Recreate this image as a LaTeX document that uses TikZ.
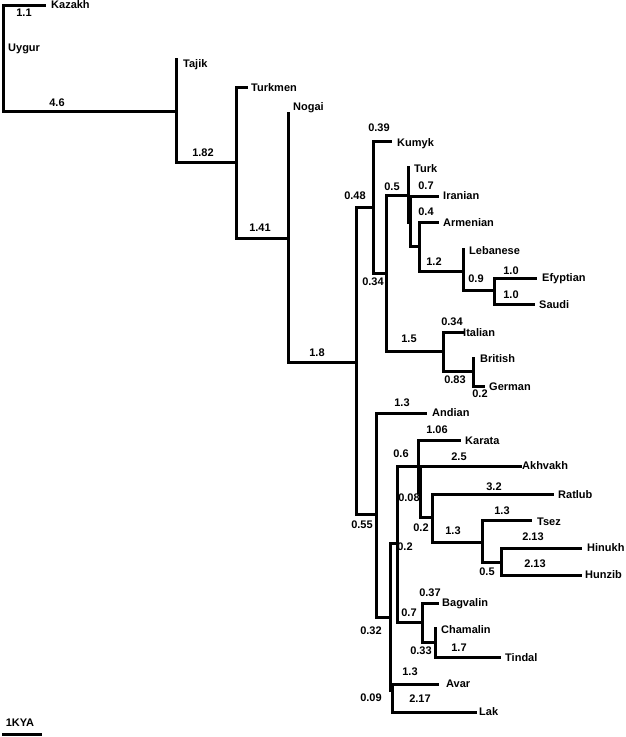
\documentclass[tikz,border=0pt]{standalone}
\usepackage{fontspec}
\setmainfont{Liberation Sans}
\begin{document}
\begin{tikzpicture}[x=1pt,y=-1pt,
  br/.style={line width=3pt,line join=miter,line cap=rect},
  lbl/.style={font=\fontsize{11}{12}\selectfont\bfseries,inner sep=0pt,text height=7.9pt,text depth=0pt},
  leaf/.style={lbl,anchor=west},
  num/.style={lbl}]
\useasboundingbox (0,0) rectangle (626,737);
% leaf labels
\node[leaf] (Kazakh) at (51,5) {Kazakh};
\node[leaf] (Uygur) at (8,48) {Uygur};
\node[leaf] (Tajik) at (183,64) {Tajik};
\node[leaf] (Turkmen) at (251,88) {Turkmen};
\node[leaf] (Nogai) at (293,107) {Nogai};
\node[leaf] (Kumyk) at (397,143) {Kumyk};
\node[leaf] (Turk) at (414,169) {Turk};
\node[leaf] (Iranian) at (443,196) {Iranian};
\node[leaf] (Armenian) at (443,223) {Armenian};
\node[leaf] (Lebanese) at (469,251) {Lebanese};
\node[leaf] (Efyptian) at (542,278) {Efyptian};
\node[leaf] (Saudi) at (539,305) {Saudi};
\node[leaf] (Italian) at (463,333) {Italian};
\node[leaf] (British) at (480,359) {British};
\node[leaf] (German) at (489,387) {German};
\node[leaf] (Andian) at (432,413) {Andian};
\node[leaf] (Karata) at (465,441) {Karata};
\node[leaf] (Akhvakh) at (522,466) {Akhvakh};
\node[leaf] (Ratlub) at (558,495) {Ratlub};
\node[leaf] (Tsez) at (537,522) {Tsez};
\node[leaf] (Hinukh) at (587,548) {Hinukh};
\node[leaf] (Hunzib) at (585,575) {Hunzib};
\node[leaf] (Bagvalin) at (442,603) {Bagvalin};
\node[leaf] (Chamalin) at (441,630) {Chamalin};
\node[leaf] (Tindal) at (505,658) {Tindal};
\node[leaf] (Avar) at (446,684) {Avar};
\node[leaf] (Lak) at (479,712) {Lak};
% branch tips
\coordinate (tKazakh) at (44,5);
\coordinate (tTajik) at (176,59);
\coordinate (tTurkmen) at (246,87);
\coordinate (tNogai) at (288,113);
\coordinate (tKumyk) at (390,141);
\coordinate (tTurk) at (408,167);
\coordinate (tIranian) at (437,196);
\coordinate (tArmenian) at (437,222);
\coordinate (tLebanese) at (463,249);
\coordinate (tEfyptian) at (535,278);
\coordinate (tSaudi) at (533,304);
\coordinate (tItalian) at (462,332);
\coordinate (tBritish) at (473,358);
\coordinate (tGerman) at (483,386);
\coordinate (tAndian) at (425,413);
\coordinate (tKarata) at (459,440);
\coordinate (tAkhvakh) at (520,466);
\coordinate (tRatlub) at (552,494);
\coordinate (tTsez) at (530,520);
\coordinate (tHinukh) at (580,548);
\coordinate (tHunzib) at (580,575);
\coordinate (tBagvalin) at (437,603);
\coordinate (tChamalin) at (435,628);
\coordinate (tTindal) at (499,657);
\coordinate (tAvar) at (437,684);
\coordinate (tLak) at (475,712);
% internal nodes (bottom of vertical bars)
\coordinate (n0) at (3,111);
\coordinate (nA) at (176,162);
\coordinate (nB) at (236,238);
\coordinate (nC) at (288,362);
\coordinate (nD) at (356,514);
\coordinate (nE) at (373,273);
\coordinate (nF) at (386,351);
\coordinate (nG) at (408,222);
\coordinate (nG2) at (410.5,246);
\coordinate (nH) at (419,271);
\coordinate (nI) at (463,290);
\coordinate (nJ) at (494,304);
\coordinate (nK) at (443,371);
\coordinate (nL) at (473,386);
\coordinate (nM) at (376,617);
\coordinate (nN) at (390,690);
\coordinate (nN2) at (392,712);
\coordinate (nO) at (397,622);
\coordinate (nKa) at (418,492);
\coordinate (nKa2) at (420,517);
\coordinate (nP) at (432,542);
\coordinate (nQ) at (482,562);
\coordinate (nR) at (501,575);
\coordinate (nS) at (422,642);
\coordinate (nT) at (435,657);
% tree
\draw[br] (tKazakh) -- (3,5) -- (n0) -- (176,111);
\draw[br] (tTajik) -- (nA) -- (nB |- nA);
\draw[br] (tTurkmen) -- (236,87) -- (nB) -- (nC |- nB);
\draw[br] (tNogai) -- (nC) -- (356,362);
\draw[br] (nE |- 0,207) -- (356,207) -- (nD) -- (nM |- nD);
\draw[br] (tKumyk) -- (373,141) -- (nE) -- (nF |- nE);
\draw[br] (nG |- 0,195) -- (386,195) -- (nF) -- (nK |- nF);
\draw[br] (tTurk) -- (nG);
\draw[br] (408,196) -- (tIranian);
\draw[br] (410.5,196) -- (nG2) -- (nH |- nG2);
\draw[br] (tArmenian) -- (419,222) -- (nH) -- (nI |- nH);
\draw[br] (tLebanese) -- (nI) -- (nJ |- nI);
\draw[br] (tEfyptian) -- (494,278) -- (nJ) -- (tSaudi);
\draw[br] (tItalian) -- (443,332) -- (nK) -- (nL |- nK);
\draw[br] (tBritish) -- (nL) -- (tGerman);
\draw[br] (tAndian) -- (376,413) -- (nM) -- (390,617);
\draw[br] (nO |- 0,543) -- (390,543) -- (nN);
\draw[br] (390,684) -- (tAvar);
\draw[br] (392,684) -- (nN2) -- (tLak);
\draw[br] (tAkhvakh) -- (397,466) -- (nO) -- (nS |- nO);
\draw[br] (tKarata) -- (418,440) -- (nKa);
\draw[br] (420,466) -- (nKa2) -- (nP |- nKa2);
\draw[br] (tRatlub) -- (432,494) -- (nP) -- (nQ |- nP);
\draw[br] (tTsez) -- (482,520) -- (nQ) -- (nR |- nQ);
\draw[br] (tHinukh) -- (501,548) -- (nR) -- (tHunzib);
\draw[br] (tBagvalin) -- (422,603) -- (nS) -- (nT |- nS);
\draw[br] (tChamalin) -- (nT) -- (tTindal);
% branch lengths
\node[num] (l1) at (24,13) {1.1};
\node[num] (l2) at (57,103) {4.6};
\node[num] (l3) at (203,153) {1.82};
\node[num] (l4) at (260,228) {1.41};
\node[num] (l5) at (317,353) {1.8};
\node[num] (l6) at (355,196) {0.48};
\node[num] (l7) at (379,128) {0.39};
\node[num] (l8) at (373,282) {0.34};
\node[num] (l9) at (392,187) {0.5};
\node[num] (l10) at (426,186) {0.7};
\node[num] (l11) at (426,212) {0.4};
\node[num] (l12) at (434,262) {1.2};
\node[num] (l13) at (476,279) {0.9};
\node[num] (l14) at (511,271) {1.0};
\node[num] (l15) at (511,295) {1.0};
\node[num] (l16) at (409,339) {1.5};
\node[num] (l17) at (452,322) {0.34};
\node[num] (l18) at (455,380) {0.83};
\node[num] (l19) at (480,394) {0.2};
\node[num] (l20) at (402,403) {1.3};
\node[num] (l21) at (362,525) {0.55};
\node[num] (l22) at (371,631) {0.32};
\node[num] (l23) at (437,430) {1.06};
\node[num] (l24) at (401,454) {0.6};
\node[num] (l25) at (459,457) {2.5};
\node[num] (l26) at (409,498) {0.08};
\node[num] (l27) at (421,528) {0.2};
\node[num] (l28) at (494,487) {3.2};
\node[num] (l29) at (453,531) {1.3};
\node[num] (l30) at (502,511) {1.3};
\node[num] (l31) at (487,572) {0.5};
\node[num] (l32) at (533,537) {2.13};
\node[num] (l33) at (535,564) {2.13};
\node[num] (l34) at (405,547) {0.2};
\node[num] (l35) at (409,613) {0.7};
\node[num] (l36) at (430,593) {0.37};
\node[num] (l37) at (421,651) {0.33};
\node[num] (l38) at (459,648) {1.7};
\node[num] (l39) at (410,672) {1.3};
\node[num] (l40) at (420,699) {2.17};
\node[num] (l41) at (371,698) {0.09};
% scale bar
\node[num] (kya) at (20,723) {1KYA};
\coordinate (sb1) at (3,734);
\coordinate (sb2) at (40,734);
\draw[br] (sb1) -- (sb2);
\end{tikzpicture}
\end{document}
